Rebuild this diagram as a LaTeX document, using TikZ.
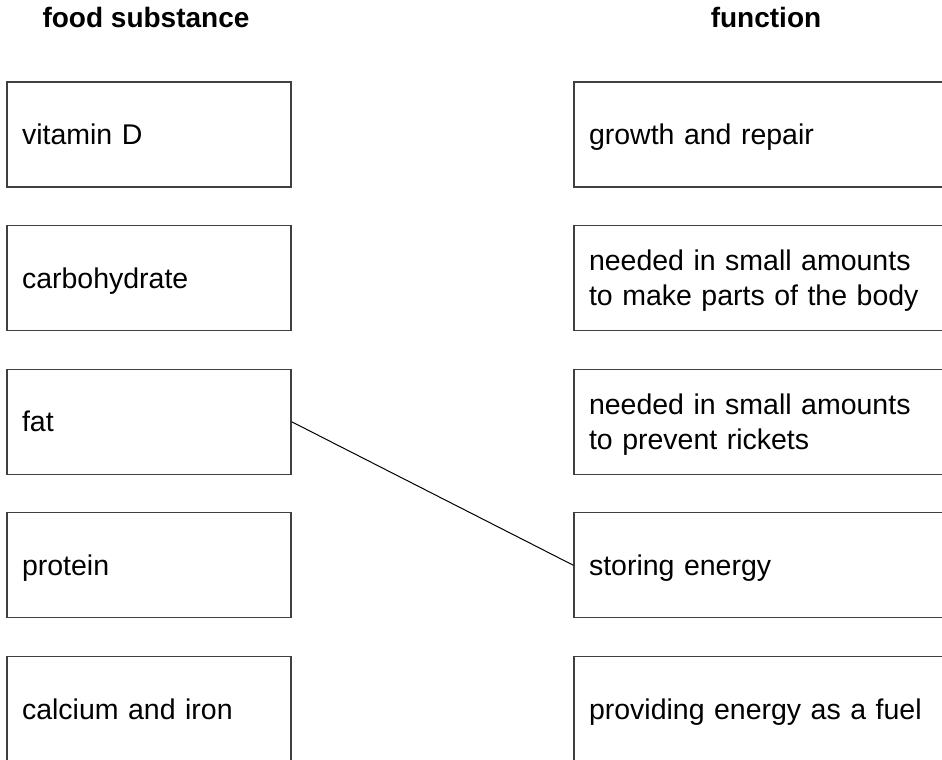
\documentclass[tikz,border=0pt]{standalone}
\usepackage{fontspec}
\setmainfont{Liberation Sans}
\begin{document}
\begin{tikzpicture}[x=1pt,y=-1pt,
  box/.style={draw=black!75, line width=1.1pt, rectangle, inner xsep=15pt, inner ysep=0pt,
    minimum height=105pt, align=left, font=\fontsize{28.5}{35}\selectfont,
    text height=20.4pt, text depth=0pt, anchor=center},
  lbox/.style={box, text width=254pt},
  rbox/.style={box, text width=354pt},
  twoline/.style={text depth=35pt},
  title/.style={font=\bfseries\fontsize{28}{34}\selectfont, anchor=base, inner sep=0pt},
  link/.style={draw=black, line width=1pt}]
\useasboundingbox (0,0) rectangle (942,760);

\node[title] (tl) at (146,28) {food substance};
\node[title] (tr) at (766,28) {function};

\node[lbox] (l1) at (149,134.5) {vitamin D};
\node[lbox] (l2) at (149,278.1) {carbohydrate};
\node[lbox] (l3) at (149,421.7) {fat};
\node[lbox] (l4) at (149,565.3) {protein};
\node[lbox] (l5) at (149,708.9) {calcium and iron};

\node[rbox] (r1) at (766,134.5) {growth and repair};
\node[rbox, twoline] (r2) at (766,278.1) {needed in small amounts\\to make parts of the body};
\node[rbox, twoline] (r3) at (766,421.7) {needed in small amounts\\to prevent rickets};
\node[rbox] (r4) at (766,565.3) {storing energy};
\node[rbox] (r5) at (766,708.9) {providing energy as a fuel};

\draw[link] (l3.east) -- (r4.west);
\end{tikzpicture}
\end{document}
